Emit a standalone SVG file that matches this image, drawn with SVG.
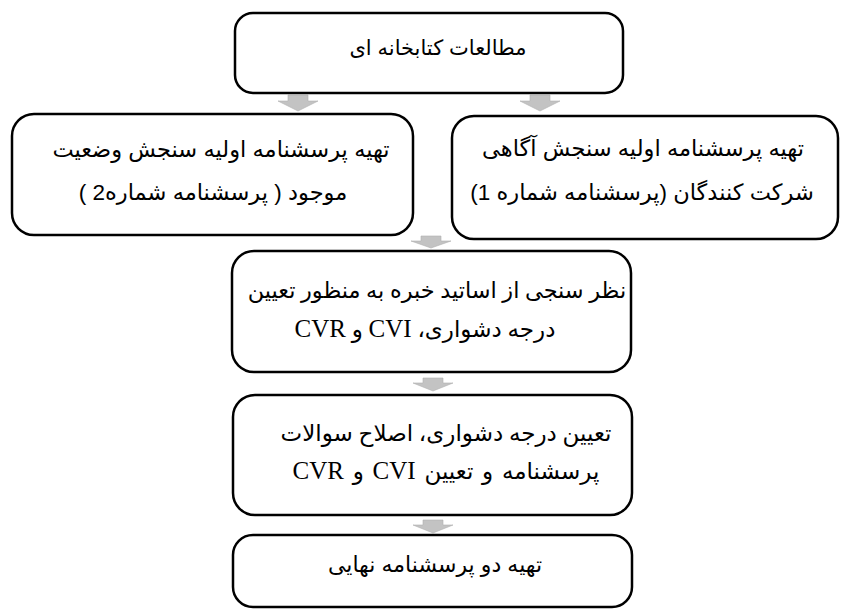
<svg xmlns="http://www.w3.org/2000/svg" width="845" height="612" viewBox="0 0 845 612">
<style>
.box{fill:#fff;stroke:#000;stroke-width:2.5}
.t{font-family:"Liberation Serif","DejaVu Sans",serif;font-size:23px;fill:#000;text-anchor:middle}
.lat{font-size:25px}
.s{font-family:"Liberation Sans","DejaVu Sans",sans-serif;font-size:22.5px;fill:#000;text-anchor:middle}
.arr{fill:#c3c3c3;stroke:#b0b0b0;stroke-width:0.6}
</style>
<rect width="845" height="612" fill="#fff"/>
<g id="connectors">
<path class="arr" d="M288,95 h20 v6 h10 l-20,10 l-20,-10 h10 z"/>
<path class="arr" d="M530,95 h20 v6 h10 l-20,10 l-20,-10 h10 z"/>
<path class="arr" d="M421,236 h20 v5 h10 l-20,7 l-20,-7 h10 z"/>
<path class="arr" d="M423,378 h20 v5 h10 l-20,8 l-20,-8 h10 z"/>
<path class="arr" d="M423,520 h20 v5 h10 l-20,8 l-20,-8 h10 z"/>
</g>
<g id="n1">
<rect class="box" x="235" y="13" width="388" height="80" rx="18"/>
<text class="s" x="438" y="55" direction="rtl" style="font-size:21px">مطالعات کتابخانه ای</text>
</g>
<g id="n2">
<rect class="box" x="12" y="114" width="401" height="121" rx="22"/>
<text class="s" x="221" y="157" direction="rtl">تهیه پرسشنامه اولیه سنجش وضعیت</text>
<text class="s" x="213" y="200" direction="rtl">موجود ( پرسشنامه شماره2 )</text>
</g>
<g id="n3">
<rect class="box" x="452" y="116" width="386" height="123" rx="22"/>
<text class="s" x="643" y="156" direction="rtl">تهیه پرسشنامه اولیه سنجش آگاهی</text>
<text class="s" x="642" y="200" direction="rtl">شرکت کنندگان (پرسشنامه شماره 1)</text>
</g>
<g id="n4">
<rect class="box" x="232" y="251" width="399" height="121" rx="22"/>
<text class="t" x="437" y="298" direction="rtl" style="font-size:22.4px">نظر سنجی از اساتید خبره به منظور تعیین</text>
<text class="t" x="425" y="337" direction="rtl">درجه دشواری،  <tspan class="lat">CVI</tspan> و <tspan class="lat">CVR</tspan></text>
</g>
<g id="n5">
<rect class="box" x="233" y="395" width="399" height="120" rx="22"/>
<text class="t" x="446" y="441" direction="rtl">تعیین درجه دشواری، اصلاح سوالات</text>
<text class="t" x="446" y="479" direction="rtl" style="word-spacing:3px">پرسشنامه و تعیین  <tspan class="lat">CVI</tspan> و <tspan class="lat">CVR</tspan></text>
</g>
<g id="n6">
<rect class="box" x="233" y="535" width="399" height="72" rx="20"/>
<text class="s" x="435" y="572" direction="rtl" style="font-size:22px">تهیه دو پرسشنامه نهایی</text>
</g>
</svg>
